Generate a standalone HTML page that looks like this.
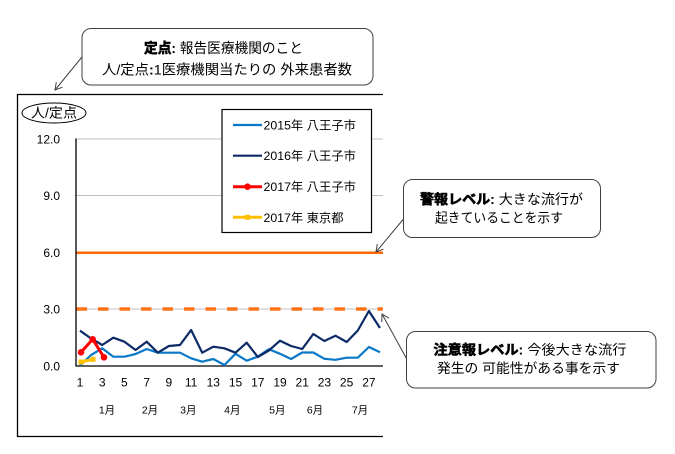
<!DOCTYPE html>
<html><head><meta charset="utf-8">
<style>
html,body{margin:0;padding:0;background:#fff;}
svg{display:block;}
text{font-family:"Liberation Sans","Noto Sans CJK JP",sans-serif;fill:#000;}
.b{font-weight:bold;stroke:#000;stroke-width:0.6px;}
</style></head>
<body>
<svg width="675" height="454" viewBox="0 0 675 454" xmlns="http://www.w3.org/2000/svg">
<rect x="0" y="0" width="675" height="454" fill="#fff"/>

<!-- outer frame (no right border) -->
<polyline points="383,94.5 17.5,94.5 17.5,436.5 383,436.5" fill="none" stroke="#000" stroke-width="1.3"/>

<!-- y unit oval -->
<ellipse cx="54" cy="113" rx="32" ry="10" fill="#fff" stroke="#000" stroke-width="1"/>
<text x="54" y="117.5" font-size="13.5" text-anchor="middle" textLength="46" lengthAdjust="spacingAndGlyphs">人/定点</text>

<!-- gridlines -->
<g stroke="#BFBFBF" stroke-width="1">
<line x1="76" y1="139" x2="383" y2="139"/>
<line x1="76" y1="195.5" x2="383" y2="195.5"/>
<line x1="76" y1="252.5" x2="383" y2="252.5"/>
<line x1="76" y1="309" x2="383" y2="309"/>
</g>

<!-- threshold lines -->
<line x1="76" y1="252.7" x2="383" y2="252.7" stroke="#FF6A00" stroke-width="2.5"/>
<line x1="76.5" y1="309" x2="383" y2="309" stroke="#FF7418" stroke-width="3.5" stroke-dasharray="10.5 11"/>

<!-- axes -->
<line x1="76" y1="138.5" x2="76" y2="366.5" stroke="#000" stroke-width="1.3"/>
<line x1="76" y1="366" x2="383" y2="366" stroke="#000" stroke-width="1.3"/>

<!-- y labels -->
<g font-size="12" text-anchor="end">
<text x="60" y="143.5">12.0</text>
<text x="60" y="199.8">9.0</text>
<text x="60" y="256.8">6.0</text>
<text x="60" y="313.5">3.0</text>
<text x="60" y="370.5">0.0</text>
</g>

<!-- x labels -->
<g font-size="12" text-anchor="middle">
<text x="80" y="386.5">1</text>
<text x="102.2" y="386.5">3</text>
<text x="124.4" y="386.5">5</text>
<text x="146.7" y="386.5">7</text>
<text x="168.9" y="386.5">9</text>
<text x="191.1" y="386.5">11</text>
<text x="213.3" y="386.5">13</text>
<text x="235.5" y="386.5">15</text>
<text x="257.8" y="386.5">17</text>
<text x="280" y="386.5">19</text>
<text x="302.2" y="386.5">21</text>
<text x="324.4" y="386.5">23</text>
<text x="346.6" y="386.5">25</text>
<text x="368.9" y="386.5">27</text>
</g>
<g font-size="10.5" text-anchor="middle">
<text x="107" y="413.3">1月</text>
<text x="150" y="413.3">2月</text>
<text x="188.3" y="413.3">3月</text>
<text x="232.3" y="413.3">4月</text>
<text x="277.3" y="413.3">5月</text>
<text x="315" y="413.3">6月</text>
<text x="360" y="413.3">7月</text>
</g>

<!-- 2015 series -->
<polyline fill="none" stroke="#0A78C8" stroke-width="2.2" stroke-linejoin="round"
points="80,365.5 91.1,355 102.2,348.3 113.3,356.7 124.4,356.7 135.6,354 146.7,349 157.8,352.7 168.9,352.7 180,352.7 191.1,358.3 202.2,361.7 213.3,359 224.4,365 235.5,353.8 246.7,360.7 257.8,356.7 268.9,349.2 280,353.8 291.1,359 302.2,352.5 313.3,352.5 324.4,358.8 335.5,359.8 346.7,357.7 357.8,357.7 368.9,347 380,352.2"/>

<!-- 2016 series -->
<polyline fill="none" stroke="#0B2A66" stroke-width="2.2" stroke-linejoin="round"
points="80,330.7 91.1,338.5 102.2,345 113.3,337.7 124.4,341.7 135.6,350 146.7,341.7 157.8,352.7 168.9,346 180,345 191.1,330 202.2,352.7 213.3,346.7 224.4,348.3 235.5,352.7 246.7,342.7 257.8,357 268.9,350.5 280,340.7 291.1,346 302.2,349 313.3,334 324.4,341 335.5,335.7 346.7,342 357.8,330.5 368.9,311 380,328"/>

<!-- 2017 Tokyo -->
<polyline fill="none" stroke="#FFC000" stroke-width="3" points="81,362 93,359.3"/>
<rect x="78.5" y="359.5" width="5" height="5" fill="#FFC000"/>
<rect x="90.5" y="356.8" width="5" height="5" fill="#FFC000"/>

<!-- 2017 Hachioji -->
<polyline fill="none" stroke="#FF0000" stroke-width="3" stroke-linejoin="round" points="81,352.3 92.7,339.3 104,357.3"/>
<circle cx="81" cy="352.3" r="3.3" fill="#FF0000"/>
<circle cx="92.7" cy="339.3" r="3.3" fill="#FF0000"/>
<circle cx="104" cy="357.3" r="3.3" fill="#FF0000"/>

<!-- legend -->
<rect x="222" y="109.5" width="149.5" height="123" fill="#fff" stroke="#000" stroke-width="1.2"/>
<line x1="233" y1="125" x2="262" y2="125" stroke="#0A78C8" stroke-width="2.2"/>
<line x1="233" y1="155.7" x2="262" y2="155.7" stroke="#0B2A66" stroke-width="2.2"/>
<line x1="233" y1="186.7" x2="262" y2="186.7" stroke="#FF0000" stroke-width="3"/>
<circle cx="247.5" cy="186.7" r="3.3" fill="#FF0000"/>
<line x1="233" y1="217.3" x2="262" y2="217.3" stroke="#FFC000" stroke-width="3"/>
<rect x="245" y="214.8" width="5" height="5" fill="#FFC000"/>
<g font-size="12">
<text x="263.5" y="129.5" textLength="92.5" lengthAdjust="spacingAndGlyphs">2015年  八王子市</text>
<text x="263.5" y="160.2" textLength="92.5" lengthAdjust="spacingAndGlyphs">2016年  八王子市</text>
<text x="263.5" y="191.2" textLength="92.5" lengthAdjust="spacingAndGlyphs">2017年  八王子市</text>
<text x="263.5" y="221.8" textLength="80" lengthAdjust="spacingAndGlyphs">2017年  東京都</text>
</g>

<!-- top callout -->
<rect x="82" y="28.5" width="291" height="56.5" rx="9" ry="9" fill="#fff" stroke="#404040" stroke-width="1"/>
<text x="144" y="53" font-size="14" textLength="159" lengthAdjust="spacingAndGlyphs"><tspan class="b">定点</tspan><tspan font-weight="bold">: </tspan>報告医療機関のこと</text>
<text x="102" y="74.3" font-size="14" textLength="250" lengthAdjust="spacingAndGlyphs">人/定点<tspan font-weight="bold">:</tspan>1医療機関当たりの 外来患者数</text>
<line x1="82" y1="57" x2="55" y2="90" stroke="#404040" stroke-width="1"/>
<polyline points="62.5,87.2 55,90 56.3,82.1" fill="none" stroke="#404040" stroke-width="1"/>

<!-- warning callout -->
<rect x="403.5" y="179.5" width="197" height="58" rx="9" ry="9" fill="#fff" stroke="#404040" stroke-width="1"/>
<text x="420" y="204" font-size="13.5" textLength="163" lengthAdjust="spacingAndGlyphs"><tspan class="b">警報レベル</tspan><tspan font-weight="bold">: </tspan>大きな流行が</text>
<text x="435" y="222.3" font-size="13.5" textLength="128" lengthAdjust="spacingAndGlyphs">起きていることを示す</text>
<line x1="403.5" y1="219" x2="376" y2="252" stroke="#404040" stroke-width="1"/>
<polyline points="383.5,249.2 376,252 377.3,244.1" fill="none" stroke="#404040" stroke-width="1"/>

<!-- caution callout -->
<rect x="406.5" y="331.5" width="249.5" height="56.5" rx="9" ry="9" fill="#fff" stroke="#404040" stroke-width="1"/>
<text x="433.5" y="354.7" font-size="13.5" textLength="193" lengthAdjust="spacingAndGlyphs"><tspan class="b">注意報レベル</tspan><tspan font-weight="bold">: </tspan>今後大きな流行</text>
<text x="437" y="373" font-size="13.5" textLength="183" lengthAdjust="spacingAndGlyphs">発生の 可能性がある事を示す</text>
<line x1="406.5" y1="358.5" x2="382" y2="314" stroke="#404040" stroke-width="1"/>
<polyline points="381.8,322 382,314 388.8,318.2" fill="none" stroke="#404040" stroke-width="1"/>
</svg>
</body></html>
